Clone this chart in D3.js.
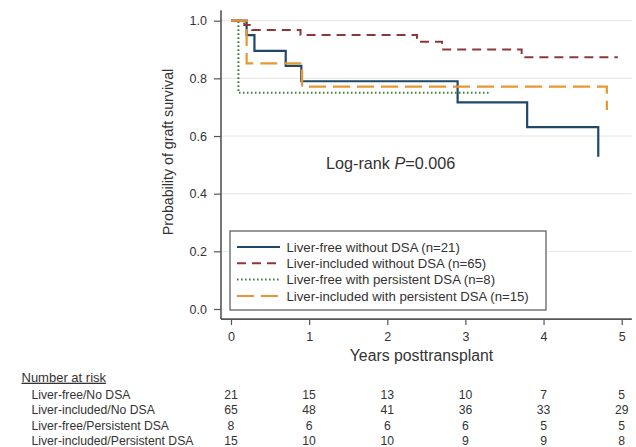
<!DOCTYPE html>
<html><head><meta charset="utf-8">
<script src="https://cdn.jsdelivr.net/npm/d3@7"></script>
<style>body{margin:0;background:#fff;} svg{display:block;font-family:"Liberation Sans",Arial,sans-serif;}</style>
</head><body>
<svg id="c" width="636" height="447"></svg>
<script>
// ---- data ----
const seriesNames = ["Liver-free without DSA (n=21)","Liver-included without DSA (n=65)","Liver-free with persistent DSA (n=8)","Liver-included with persistent DSA (n=15)"];
const freeNoTimes = [0, 0.20, 0.30, 0.70, 0.90, 2.90, 3.79, 4.70];
const freeNoSurv  = [1, 0.950, 0.895, 0.843, 0.790, 0.717, 0.631, 0.528];
const inclNoTimes = [0, 0.17, 0.27, 0.89, 2.38, 2.70, 3.72, 4.95];
const inclNoSurv  = [1, 0.985, 0.968, 0.950, 0.927, 0.900, 0.873, 0.873];
const freeDsaTimes = [0, 0.095, 3.31];
const freeDsaSurv  = [1, 0.750, 0.750];
const inclDsaTimes = [0, 0.20, 0.91, 4.81];
const inclDsaSurv  = [1, 0.852, 0.771, 0.690];
const yTicks = [0, 0.2, 0.4, 0.6, 0.8, 1.0];
const xTicks = [0, 1, 2, 3, 4, 5];
const riskTimes = [0, 1, 2, 3, 4, 5];
const riskLabels = ["Liver-free/No DSA","Liver-included/No DSA","Liver-free/Persistent DSA","Liver-included/Persistent DSA"];
const riskFreeNo  = [21, 15, 13, 10, 7, 5];
const riskInclNo  = [65, 48, 41, 36, 33, 29];
const riskFreeDsa = [8, 6, 6, 6, 5, 5];
const riskInclDsa = [15, 10, 10, 9, 9, 8];

// ---- drawing ----
const svg = d3.select("#c");
const x = d3.scaleLinear().domain([0, 5]).range([231, 621.7]);
const y = d3.scaleLinear().domain([0, 1]).range([309, 20.7]);
const xMin = -0.128, xMax = 5.13, yMin = -0.035, yMax = 1.036;
const axisColor = "#555", textColor = "#333";

// gridlines
svg.append("g").selectAll("line").data(yTicks.filter(d => d > 0)).join("line")
  .attr("x1", x(xMin)).attr("x2", x(xMax))
  .attr("y1", d => y(d)).attr("y2", d => y(d))
  .attr("stroke", "#e6e6e6").attr("stroke-width", 1);

// y axis
const yAxis = svg.append("g").attr("transform", `translate(${x(xMin)},0)`)
  .call(d3.axisLeft(y).tickValues(yTicks).tickFormat(d3.format(".1f")).tickSize(7).tickPadding(7));
yAxis.select(".domain").attr("d", `M0,${y(yMin)}V${y(yMax)}`);
// x axis
const xAxis = svg.append("g").attr("transform", `translate(0,${y(yMin)})`)
  .call(d3.axisBottom(x).tickValues(xTicks).tickFormat(d3.format("d")).tickSize(6).tickPadding(7));
xAxis.select(".domain").attr("d", `M${x(xMin)},0H${x(xMax)}`);
[yAxis, xAxis].forEach(g => {
  g.select(".domain").attr("stroke", axisColor).attr("stroke-width", 1.6);
  g.selectAll(".tick line").attr("stroke", axisColor).attr("stroke-width", 1.2);
  g.selectAll(".tick text").attr("fill", textColor).attr("font-size", 12.5).attr("font-family", "Liberation Sans, Arial, sans-serif");
});

// axis titles
svg.append("text").attr("transform", `translate(173,152) rotate(-90)`)
  .attr("text-anchor", "middle").attr("font-size", 14.2).attr("fill", textColor)
  .text("Probability of graft survival");
svg.append("text").attr("x", 421.5).attr("y", 360.5)
  .attr("text-anchor", "middle").attr("font-size", 15.8).attr("fill", textColor)
  .text("Years posttransplant");

// curves
const series = [
  {t: freeNoTimes, s: freeNoSurv, color: "#1f4868", dash: null, w: 2.2},
  {t: inclNoTimes, s: inclNoSurv, color: "#8b3838", dash: "9,6", w: 2},
  {t: freeDsaTimes, s: freeDsaSurv, color: "#3f7f3a", dash: "1.6,2.4", w: 2},
  {t: inclDsaTimes, s: inclDsaSurv, color: "#e89632", dash: "17,7", w: 2.2}
];
const line = d3.line().x(d => x(d[0])).y(d => y(d[1])).curve(d3.curveStepAfter);
series.forEach(sr => {
  svg.append("path").datum(sr.t.map((t, i) => [t, sr.s[i]]))
    .attr("d", line).attr("fill", "none").attr("stroke", sr.color)
    .attr("stroke-width", sr.w).attr("stroke-dasharray", sr.dash);
});

// log-rank text
const lr = svg.append("text").attr("x", 326).attr("y", 168.5).attr("font-size", 16.2).attr("fill", textColor);
lr.append("tspan").text("Log-rank ");
lr.append("tspan").attr("font-style", "italic").text("P");
lr.append("tspan").text("=0.006");

// legend
const lg = svg.append("g");
lg.append("rect").attr("x", 230).attr("y", 231).attr("width", 316).attr("height", 79)
  .attr("fill", "#fff").attr("stroke", axisColor).attr("stroke-width", 1.2);
const rowY = [247, 263.3, 279.6, 296];
series.forEach((sr, i) => {
  lg.append("line").attr("x1", 237).attr("x2", 280).attr("y1", rowY[i]).attr("y2", rowY[i])
    .attr("stroke", sr.color).attr("stroke-width", sr.w).attr("stroke-dasharray", sr.dash);
  lg.append("text").attr("x", 286.5).attr("y", rowY[i] + 4.7).attr("font-size", 13.2).attr("fill", textColor)
    .text(seriesNames[i]);
});

// number at risk table
svg.append("text").attr("x", 21.5).attr("y", 381.7).attr("font-size", 13).attr("fill", textColor)
  .attr("text-decoration", "underline").text("Number at risk");
const riskRows = [riskFreeNo, riskInclNo, riskFreeDsa, riskInclDsa];
const tableY = [399.3, 414.3, 430, 445];
riskRows.forEach((row, i) => {
  svg.append("text").attr("x", 31.5).attr("y", tableY[i]).attr("font-size", 12.2).attr("fill", textColor)
    .text(riskLabels[i]);
  svg.append("g").selectAll("text").data(row).join("text")
    .attr("x", (d, j) => x(riskTimes[j])).attr("y", tableY[i])
    .attr("text-anchor", "middle").attr("font-size", 12.2).attr("fill", textColor)
    .text(d => d);
});
</script>
</body></html>
